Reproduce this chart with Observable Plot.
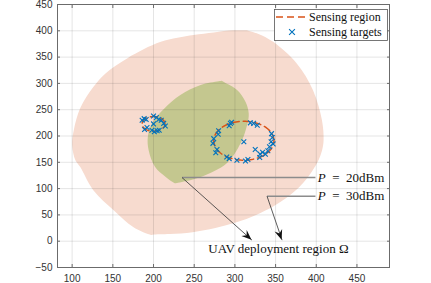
<!DOCTYPE html>
<html><head><meta charset="utf-8">
<script src="https://cdn.jsdelivr.net/npm/d3@7"></script>
<script src="https://cdn.jsdelivr.net/npm/@observablehq/plot@0.6"></script>
<style>body{margin:0;background:#fff} #chart{width:431px;height:283px}</style>
</head><body><div id="chart"></div>
<script>
const xTicks = [100,150,200,250,300,350,400,450];
const yTicks = [-50,0,50,100,150,200,250,300,350,400,450];

// P = 30dBm region outline (clockwise from top corner)
const pinkX = [314,329,347,376,396,407,409,407,403,397,389,378,364,347,326,302,276,248,220,199,197,175,151,126,110,104,100,102,110,126,141,168,209,249,274,298,310,314];
const pinkY = [401,394,379,338,287,230,192,172,155,138,120,101,83,66,50,36,25,17,13.5,12.5,12,27,59,97,141,154,183,211,253,293,319,348,379,392,397,401,401,401];
// P = 20dBm region outline
const greenX = [284,280,258,233,213,198,193,194,202,215,225,227,230,258,290,307,315,317,313,303,287,284];
const greenY = [305,304,297,278,252,224,198,173,141,122,111,110,111,122,148,186,221,243,265,287,302,305];

// sensing regions (circles)
const sensingCenterX = [200, 311];
const sensingCenterY = [223, 191];
const sensingRadius = [14, 37];

// sensing targets
const targetX = [186,188.5,191,189,192,200,203.5,206.5,209.5,212.5,214.5,200,198,201,204.5,207,
  294.5,293,296,319,323,327.5,280,279.5,274,273,278,276.5,290,293,302.5,311,313,316,325,331,334,337.5,340.5,342.5,344.5,346,345,330.5,347];
const targetY = [230,233,231.5,212.5,216,238,235,231.5,230,224,219,223,211,208,210,211,
  224,219.5,226,225,224,220.5,210,203.5,195,186,174.5,168,160,157,154,189,152.5,155.5,174.5,165.5,169,165.5,172,179.5,189,197,204.5,159,185];

// annotations
const powerLabels = ["20dBm", "30dBm"];
const leaderStartX = [235, 339.5];
const leaderY = [121, 85.5];
const leaderEndX = [399, 399];
const arrowTipX = [321, 358];
const arrowTipY = [2, 2];
const labelX = 402.5;
const regionLabel = "UAV deployment region Ω";
const regionLabelPos = {x: 353.5, y: -14};

const pink = pinkX.map((x,i)=>({x, y: pinkY[i]}));
const green = greenX.map((x,i)=>({x, y: greenY[i]}));
const circles = sensingCenterX.flatMap((cx,i)=> d3.range(0, 361, 3).map(a => ({id:i,
  x: cx + sensingRadius[i]*Math.cos(a*Math.PI/180),
  y: sensingCenterY[i] + sensingRadius[i]*Math.sin(a*Math.PI/180)})));
const targets = targetX.map((x,i)=>({x, y: targetY[i]}));
const leaders = powerLabels.map((t,i)=>({t, x1: leaderStartX[i], x2: leaderEndX[i], y: leaderY[i], tx: arrowTipX[i], ty: arrowTipY[i]}));

const axisColor = "#6b6b6b";
const chart = Plot.plot({
  width: 431, height: 283,
  marginLeft: 57, marginRight: 42, marginTop: 4, marginBottom: 16,
  x: {domain: [82, 490]},
  y: {domain: [-50, 450]},
  style: {fontFamily: "Liberation Sans, Arial, sans-serif", fontSize: "10px", background: "#fff", color: "#333"},
  marks: [
    Plot.line(pink, {x:"x", y:"y", fill:"#f7dbcf", stroke:"none", curve:"catmull-rom"}),
    Plot.line(green, {x:"x", y:"y", fill:"#c4c78f", stroke:"none", curve:"catmull-rom"}),
    Plot.gridX(xTicks, {stroke:"#262626", strokeOpacity:0.12}),
    Plot.gridY(yTicks, {stroke:"#262626", strokeOpacity:0.12}),
    Plot.line(circles, {x:"x", y:"y", z:"id", stroke:"#d95319", strokeWidth:1.5, strokeDasharray:"7,4"}),
    Plot.dot(targets, {x:"x", y:"y", symbol:"times", r:2.3, stroke:"#0072bd", strokeWidth:1.1}),
    Plot.link(leaders, {x1:"x1", x2:"x2", y1:"y", y2:"y", stroke:"#8c8c8c", strokeWidth:1.5}),
    Plot.link(leaders, {x1:"x1", y1:"y", x2:"tx", y2:"ty", stroke:"#333", strokeWidth:0.8}),
    Plot.text([regionLabelPos], {x:"x", y:"y", text: () => regionLabel, fontFamily:"Liberation Serif, serif", fontSize:13, fill:"#111"}),
    Plot.frame({stroke: axisColor}),
    Plot.axisX(xTicks, {anchor:"bottom", tickSize:0, tickPadding:7, label:null}),
    Plot.axisY(yTicks, {anchor:"left", tickSize:0, tickPadding:5, label:null}),
    Plot.axisX(xTicks, {anchor:"bottom", tickSize:-3, tickFormat:()=>"", label:null, stroke:axisColor}),
    Plot.axisX(xTicks, {anchor:"top", tickSize:-3, tickFormat:()=>"", label:null, stroke:axisColor}),
    Plot.axisY(yTicks, {anchor:"left", tickSize:-3, tickFormat:()=>"", label:null, stroke:axisColor}),
    Plot.axisY(yTicks, {anchor:"right", tickSize:-3, tickFormat:()=>"", label:null, stroke:axisColor})
  ]
});
document.getElementById("chart").appendChild(chart);

const sx = chart.scale("x"), sy = chart.scale("y");
const svg = d3.select(chart);
// arrowheads and power labels
leaders.forEach(l => {
  const x0 = sx.apply(l.x1), y0 = sy.apply(l.y), x1 = sx.apply(l.tx), y1 = sy.apply(l.ty);
  const a = Math.atan2(y1-y0, x1-x0), L = 10, W = 4, N = 6.5;
  const p = (d, w) => [x1 - d*Math.cos(a) - w*Math.sin(a), y1 - d*Math.sin(a) + w*Math.cos(a)];
  svg.append("path").attr("d", `M${x1},${y1}L${p(L,W)}L${p(N,0)}L${p(L,-W)}Z`).attr("fill","#111");
  svg.append("text").attr("x", sx.apply(labelX)).attr("y", y0).attr("dy","0.35em").attr("text-anchor","start")
    .attr("font-family","Liberation Serif, serif").attr("font-size",13).attr("fill","#111")
    .call(t => { t.append("tspan").attr("font-style","italic").text("P");
                 t.append("tspan").text("\u2002=\u2002" + l.t); });
});
// legend
const lg = svg.append("g");
lg.append("rect").attr("x",274.5).attr("y",9.5).attr("width",113).attr("height",31).attr("fill","#fff").attr("stroke","#555").attr("stroke-width",0.8);
lg.append("line").attr("x1",276).attr("x2",306).attr("y1",17).attr("y2",17).attr("stroke","#d95319").attr("stroke-width",1.5).attr("stroke-dasharray","7,4");
lg.append("path").attr("d", d3.symbol(d3.symbolTimes, 24)()).attr("transform","translate(292,32)").attr("fill","none").attr("stroke","#0072bd").attr("stroke-width",1.1);
[["Sensing region",17],["Sensing targets",32]].forEach(([t,y]) =>
  lg.append("text").attr("x",309).attr("y",y).attr("dy","0.35em").attr("text-anchor","start").attr("font-family","Liberation Serif, serif").attr("font-size",12).attr("fill","#111").text(t));
</script></body></html>
